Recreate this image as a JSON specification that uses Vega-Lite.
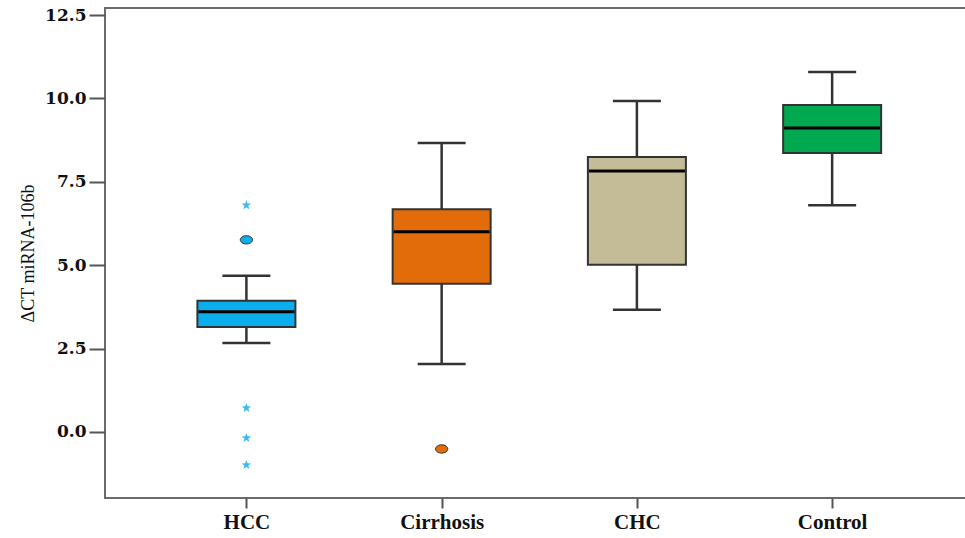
{
  "$schema": "https://vega.github.io/schema/vega-lite/v6.json",
  "width": 863,
  "height": 490,
  "autosize": {"type": "none"},
  "padding": {"left": 105, "top": 8, "right": 0, "bottom": 40},
  "background": "white",
  "config": {
    "view": {"stroke": "#6b6b6b", "strokeWidth": 2},
    "axis": {"grid": false, "domain": false}
  },
  "datasets": {
    "boxes": [
      {"group": "HCC", "lower": 2.67, "q1": 3.15, "median": 3.6, "q3": 3.93, "upper": 4.68},
      {"group": "Cirrhosis", "lower": 2.04, "q1": 4.44, "median": 6.0, "q3": 6.68, "upper": 8.66},
      {"group": "CHC", "lower": 3.66, "q1": 5.01, "median": 7.82, "q3": 8.24, "upper": 9.92},
      {"group": "Control", "lower": 6.8, "q1": 8.36, "median": 9.11, "q3": 9.8, "upper": 10.79}
    ],
    "outliers": [
      {"group": "HCC", "value": 6.8, "kind": "extreme"},
      {"group": "HCC", "value": 5.76, "kind": "outlier"},
      {"group": "HCC", "value": 0.72, "kind": "extreme"},
      {"group": "HCC", "value": -0.18, "kind": "extreme"},
      {"group": "HCC", "value": -0.99, "kind": "extreme"},
      {"group": "Cirrhosis", "value": -0.51, "kind": "outlier"}
    ]
  },
  "encoding": {
    "x": {
      "field": "group",
      "type": "nominal",
      "sort": ["HCC", "Cirrhosis", "CHC", "Control"],
      "scale": {"type": "point", "padding": 0.71, "align": 0.51, "domain": ["HCC", "Cirrhosis", "CHC", "Control"]},
      "axis": {
        "title": null,
        "labelAngle": 0,
        "labelFont": "Liberation Serif",
        "labelFontWeight": "bold",
        "labelFontSize": 21,
        "labelColor": "#111",
        "tickSize": 10,
        "tickWidth": 2,
        "tickColor": "#555",
        "labelPadding": 3
      }
    }
  },
  "layer": [
    {
      "data": {"name": "boxes"},
      "mark": {"type": "rule", "color": "#333", "strokeWidth": 2.5},
      "encoding": {
        "y": {
          "field": "lower",
          "type": "quantitative",
          "scale": {"domain": [-1.98, 12.71], "nice": false, "zero": false},
          "axis": {
            "title": "ΔCT miRNA-106b",
            "titleFont": "Liberation Serif",
            "titleFontWeight": "normal",
            "titleFontSize": 18,
            "titleColor": "#111",
            "titlePadding": 7,
            "values": [0, 2.5, 5, 7.5, 10, 12.5],
            "format": ".1f",
            "labelFont": "DejaVu Serif",
            "labelFontWeight": "bold",
            "labelFontSize": 17,
            "labelColor": "#111",
            "tickSize": 16,
            "tickWidth": 2,
            "tickColor": "#555",
            "labelPadding": 3
          }
        },
        "y2": {"field": "upper"}
      }
    },
    {
      "data": {"name": "boxes"},
      "mark": {"type": "tick", "color": "#333", "size": 48, "thickness": 2.5, "opacity": 1},
      "encoding": {"y": {"field": "lower", "type": "quantitative"}}
    },
    {
      "data": {"name": "boxes"},
      "mark": {"type": "tick", "color": "#333", "size": 48, "thickness": 2.5, "opacity": 1},
      "encoding": {"y": {"field": "upper", "type": "quantitative"}}
    },
    {
      "data": {"name": "boxes"},
      "mark": {"type": "bar", "size": 98, "stroke": "#333", "strokeWidth": 2, "opacity": 1},
      "encoding": {
        "y": {"field": "q1", "type": "quantitative"},
        "y2": {"field": "q3"},
        "color": {
          "field": "group",
          "type": "nominal",
          "scale": {"domain": ["HCC", "Cirrhosis", "CHC", "Control"], "range": ["#0AAEEC", "#E36C0A", "#C4BC96", "#00A94F"]},
          "legend": null
        }
      }
    },
    {
      "data": {"name": "boxes"},
      "mark": {"type": "tick", "color": "#000", "size": 96, "thickness": 3, "opacity": 1},
      "encoding": {"y": {"field": "median", "type": "quantitative"}}
    },
    {
      "data": {"name": "outliers"},
      "transform": [{"filter": "datum.kind === 'extreme'"}],
      "mark": {
        "type": "point",
        "filled": true,
        "opacity": 1,
        "color": "#3BB9F2",
        "size": 100,
        "shape": "M0,-1L0.235,-0.324L0.951,-0.309L0.38,0.124L0.588,0.809L0,0.4L-0.588,0.809L-0.38,0.124L-0.951,-0.309L-0.235,-0.324Z"
      },
      "encoding": {"y": {"field": "value", "type": "quantitative"}}
    },
    {
      "data": {"name": "outliers"},
      "transform": [{"filter": "datum.kind === 'outlier'"}],
      "mark": {
        "type": "point",
        "filled": true,
        "opacity": 1,
        "stroke": "#333",
        "strokeWidth": 1,
        "size": 150,
        "shape": "M-1,0A1,0.68,0,1,0,1,0A1,0.68,0,1,0,-1,0Z"
      },
      "encoding": {
        "y": {"field": "value", "type": "quantitative"},
        "fill": {
          "field": "group",
          "type": "nominal",
          "scale": {"domain": ["HCC", "Cirrhosis", "CHC", "Control"], "range": ["#0AAEEC", "#E36C0A", "#C4BC96", "#00A94F"]},
          "legend": null
        }
      }
    }
  ]
}
